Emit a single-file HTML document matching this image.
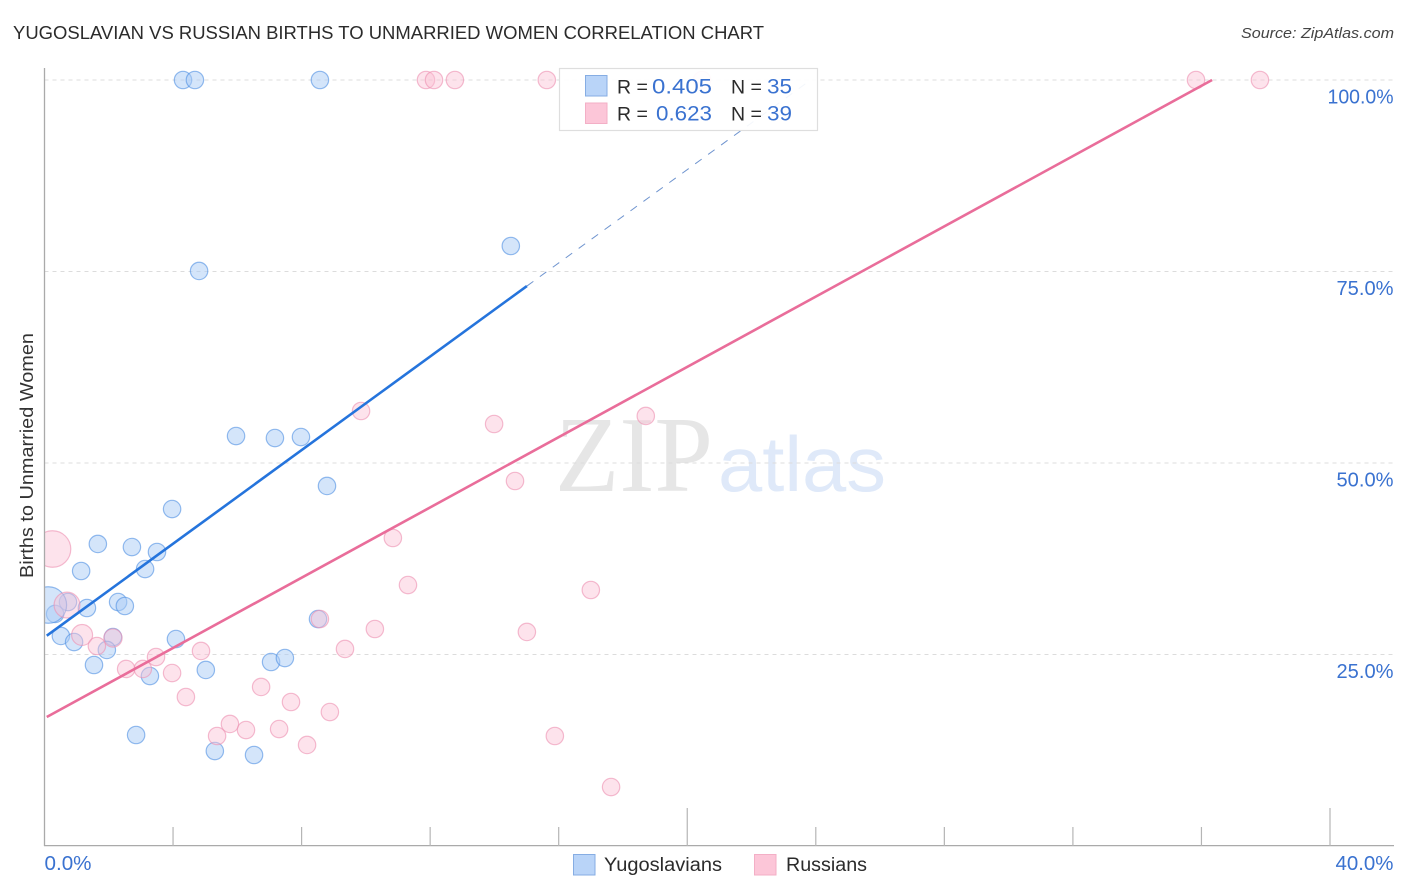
<!DOCTYPE html>
<html lang="en">
<head>
<meta charset="utf-8">
<title>Yugoslavian vs Russian Births to Unmarried Women Correlation Chart</title>
<style>
html,body{margin:0;padding:0;background:#fff;width:1406px;height:892px;overflow:hidden}
svg{display:block}
text{font-family:"Liberation Sans",sans-serif}
</style>
</head>
<body>
<svg id="chart" width="1406" height="892" viewBox="0 0 1406 892" xmlns="http://www.w3.org/2000/svg">
  <defs>
    <clipPath id="plot-clip"><rect x="44.5" y="60" width="1350" height="786"/></clipPath>
  </defs>
  <text x="13" y="39" font-size="18.5" fill="#2b2b2b" textLength="751" lengthAdjust="spacingAndGlyphs">YUGOSLAVIAN VS RUSSIAN BIRTHS TO UNMARRIED WOMEN CORRELATION CHART</text>
  <text x="1241" y="38" font-size="15" font-style="italic" fill="#444" textLength="153" lengthAdjust="spacingAndGlyphs">Source: ZipAtlas.com</text>
  <text transform="translate(33,578) rotate(-90)" font-size="18.5" fill="#333" textLength="245" lengthAdjust="spacingAndGlyphs">Births to Unmarried Women</text>

  <g>
    <text x="555" y="491" font-size="108" fill="#e6e6e6" style="font-family:'Liberation Serif',serif" textLength="158" lengthAdjust="spacingAndGlyphs">ZIP</text>
    <text x="718" y="491" font-size="78" fill="#dfe9f9" textLength="168" lengthAdjust="spacingAndGlyphs">atlas</text>
  </g>

  <g id="grid"></g>
  <g id="marks" clip-path="url(#plot-clip)"></g>
  <g id="lines"></g>
  <g id="axes"></g>
  <g id="ylabels"></g>
  <g id="xlabels"></g>

  <g>
    <rect x="559.5" y="68.5" width="258" height="62" fill="#fff" fill-opacity="0.92" stroke="#dedede" stroke-width="1.2"/>
    <rect x="585.5" y="75.5" width="21.5" height="20.5" fill="#b9d4f8" stroke="#86ade3" stroke-width="1"/>
    <rect x="585.5" y="103" width="21.5" height="20.5" fill="#fcc6d8" stroke="#f3afc6" stroke-width="1"/>
    <text x="617" y="93.5" font-size="19.5" fill="#2b2b2b">R =</text>
    <text x="652" y="93.5" font-size="21" fill="#3a72d0" textLength="60" lengthAdjust="spacingAndGlyphs">0.405</text>
    <text x="731" y="93.5" font-size="19.5" fill="#2b2b2b">N =</text>
    <text x="767" y="93.5" font-size="21" fill="#3a72d0" textLength="25" lengthAdjust="spacingAndGlyphs">35</text>
    <text x="617" y="120.5" font-size="19.5" fill="#2b2b2b">R =</text>
    <text x="656" y="120.5" font-size="21" fill="#3a72d0" textLength="56" lengthAdjust="spacingAndGlyphs">0.623</text>
    <text x="731" y="120.5" font-size="19.5" fill="#2b2b2b">N =</text>
    <text x="767" y="120.5" font-size="21" fill="#3a72d0" textLength="25" lengthAdjust="spacingAndGlyphs">39</text>
  </g>

  <g>
    <rect x="573.5" y="854.5" width="21.5" height="20.5" fill="#b9d4f8" stroke="#86ade3" stroke-width="1"/>
    <text x="604" y="871" font-size="19" fill="#2b2b2b" textLength="118" lengthAdjust="spacingAndGlyphs">Yugoslavians</text>
    <rect x="754.5" y="854.5" width="21.5" height="20.5" fill="#fcc6d8" stroke="#f3afc6" stroke-width="1"/>
    <text x="786" y="871" font-size="19" fill="#2b2b2b" textLength="81" lengthAdjust="spacingAndGlyphs">Russians</text>
  </g>
</svg>
<script>
const yugoX = [4.31,4.68,8.57,14.51,4.81,5.96,7.17,7.98,8.79,3.97,1.66,2.72,3.50,3.13,1.14,0.73,1.32,2.29,2.50,0.33,0.12,0.51,0.92,2.13,1.94,1.54,4.09,3.28,5.02,7.05,7.48,8.51,2.85,5.30,6.52];
const yugoY = [100,100,100,78.33,75.07,53.52,53.26,53.39,47.0,43.99,39.43,39.03,38.38,36.16,35.90,31.85,31.07,31.85,31.33,30.29,31.46,27.42,26.63,27.28,25.59,23.63,27.02,22.19,22.98,24.02,24.54,29.63,14.49,12.40,11.88];
const yugoWeight = [1,1,1,1,1,1,1,1,1,1,1,1,1,1,1,1,1,1,1,1,4.4,1,1,1,1,1,1,1,1,1,1,1,1,1,1];

const rusX = [11.87,12.12,12.77,15.63,20.46,35.83,37.82,9.85,13.99,18.71,14.64,10.84,11.31,17.0,8.57,10.28,15.01,9.35,0.25,0.70,1.17,1.63,2.13,2.54,3.06,3.47,3.97,4.40,4.87,5.37,5.77,6.27,6.74,7.30,7.67,8.17,8.88,15.88,17.63];
const rusY = [100,100,100,100,100,100,100,56.79,55.09,56.14,47.65,40.21,34.07,33.42,29.63,28.33,27.94,25.72,38.77,31.46,27.55,26.11,27.15,23.11,23.11,24.67,22.58,19.45,25.46,14.36,15.93,15.14,20.76,15.27,18.80,13.19,17.49,14.36,7.70];
const rusWeight = [1,1,1,1,1,1,1,1,1,1,1,1,1,1,1,1,1,1,4.4,2.2,1.45,1,1.1,1,1,1,1,1,1,1,1,1,1,1,1,1,1,1,1];

const yugoLineX = [0.07,15.01];
const yugoLineY = [27.45,73.1];
const yugoDashX = [15.01,23.84];
const yugoDashY = [73.1,100];
const rusLineX = [0.07,36.33];
const rusLineY = [16.84,100];

const yTicks = [25,50,75,100];
const yTickLabels = ["25.0%","50.0%","75.0%","100.0%"];
const xTicks = [4,8,12,16,20,24,28,32,36,40];
const xMajorTicks = [20,40];
const xEndTicks = [0,40];
const xEndLabels = ["0.0%","40.0%"];

const NS = "http://www.w3.org/2000/svg";
function xScale(v){ return 44.5 + v * (1330 - 44.5) / 40; }
function yScale(v){ return 846 - v * 7.66; }
function radius(w){ return 8.7 * Math.sqrt(w); }
function labelWidth(s){ return s.length > 5 ? 66 : (s.length > 4 ? 57 : 47); }
function make(tag, attrs, parent){
  const el = document.createElementNS(NS, tag);
  for (const k in attrs) el.setAttribute(k, attrs[k]);
  parent.appendChild(el);
  return el;
}

const grid = document.getElementById('grid');
yTicks.forEach(function(t){
  const l = make('line', {x1:44.5, x2:1394, y1:yScale(t), y2:yScale(t), stroke:'#dcdcdc', 'stroke-width':1, 'stroke-dasharray':'4 4'}, grid);
  
  
});

const marks = document.getElementById('marks');
function drawSeries(xs, ys, ws, fill, stroke, fillOp, name){
  xs.forEach(function(x, i){
    const c = make('circle', {cx:xScale(x), cy:yScale(ys[i]), r:radius(ws[i]), fill:fill, 'fill-opacity':fillOp, stroke:stroke, 'stroke-opacity':0.6, 'stroke-width':1.2}, marks);
    
    
  });
}
drawSeries(yugoX, yugoY, yugoWeight, '#a9ccf6', '#4f8fe3', 0.5, 'yugoslavians');
drawSeries(rusX, rusY, rusWeight, '#fbc0d4', '#ec8fb0', 0.45, 'russians');

const lines = document.getElementById('lines');
const yugoTrend = make('line', {x1:xScale(yugoLineX[0]), y1:yScale(yugoLineY[0]), x2:xScale(yugoLineX[1]), y2:yScale(yugoLineY[1]), stroke:'#2574dc', 'stroke-width':2.6}, lines);


const yugoDash = make('line', {x1:xScale(yugoDashX[0]), y1:yScale(yugoDashY[0]), x2:xScale(yugoDashX[1]), y2:yScale(yugoDashY[1]), stroke:'#6f94cf', 'stroke-width':1, 'stroke-dasharray':'8 8'}, lines);


const rusTrend = make('line', {x1:xScale(rusLineX[0]), y1:yScale(rusLineY[0]), x2:xScale(rusLineX[1]), y2:yScale(rusLineY[1]), stroke:'#e96d9a', 'stroke-width':2.6}, lines);



const axes = document.getElementById('axes');
const yAxis = make('line', {x1:44.5, x2:44.5, y1:68, y2:846, stroke:'#aaa', 'stroke-width':1.3}, axes);


const xAxis = make('line', {x1:44, x2:1394, y1:845.6, y2:845.6, stroke:'#aaa', 'stroke-width':1.3}, axes);


xTicks.forEach(function(t){
  const top = xMajorTicks.indexOf(t) >= 0 ? 808 : 827;
  const l = make('line', {x1:xScale(t), x2:xScale(t), y1:top, y2:846, stroke:'#b5b5b5', 'stroke-width':1.2}, axes);
  
  
});

const ylabels = document.getElementById('ylabels');
yTicks.forEach(function(t, i){
  const el = make('text', {x:1393.5, y:yScale(t) + 23.5, 'text-anchor':'end', 'font-size':20, fill:'#3a72d0', textLength:labelWidth(yTickLabels[i]), lengthAdjust:'spacingAndGlyphs'}, ylabels);
  el.textContent = yTickLabels[i];
  
  
});

const xlabels = document.getElementById('xlabels');
xEndTicks.forEach(function(t, i){
  const atEnd = i === xEndTicks.length - 1;
  const el = make('text', {x: atEnd ? 1393.5 : xScale(t), y:870, 'text-anchor': atEnd ? 'end' : 'start', 'font-size':20, fill:'#3a72d0', textLength:atEnd ? 58 : 47, lengthAdjust:'spacingAndGlyphs'}, xlabels);
  el.textContent = xEndLabels[i];
  
  
});
</script>
</body>
</html>
